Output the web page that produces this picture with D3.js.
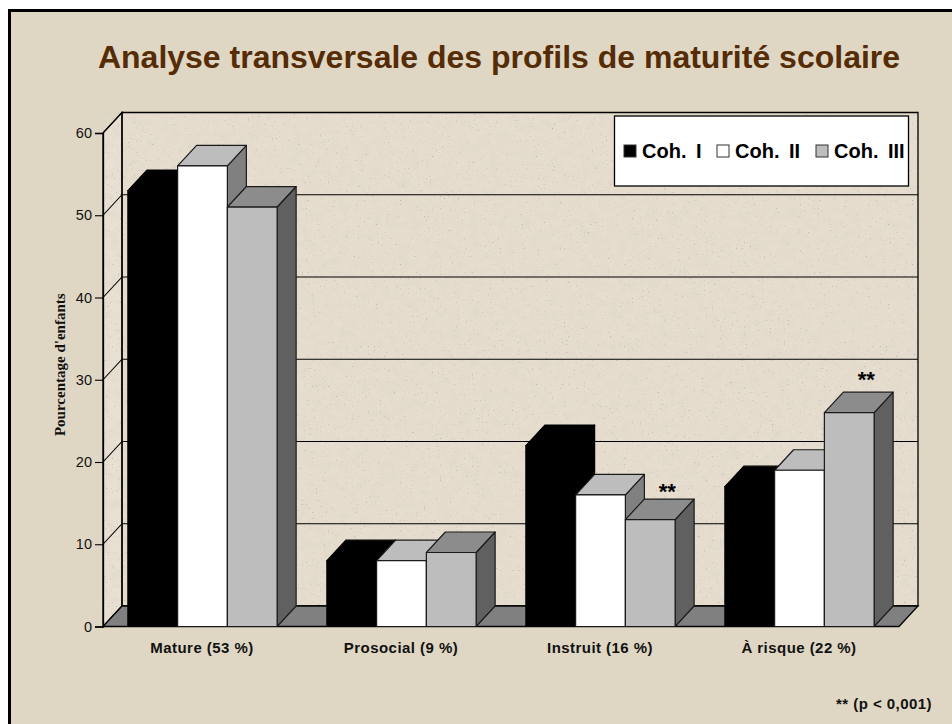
<!DOCTYPE html>
<html>
<head>
<meta charset="utf-8">
<script src="https://cdn.jsdelivr.net/npm/d3@7"></script>
<style>
  html, body { margin: 0; padding: 0; background: #fff; }
  svg { display: block; }
  text { font-family: "Liberation Sans", Arial, sans-serif; }
</style>
</head>
<body>
<svg id="chart" width="952" height="724"></svg>
<script>
// Values
const categories = ['Mature (53 %)', 'Prosocial (9 %)', 'Instruit (16 %)', 'À risque (22 %)'];
const seriesNames = ['Coh. I', 'Coh. II', 'Coh. III'];
const cohort1 = [53, 8, 22, 17];
const cohort2 = [56, 8, 16, 19];
const cohort3 = [51, 9, 13, 26];
const yTicks = [0, 10, 20, 30, 40, 50, 60];
// series index, category index of the bars that carry a star label
const starred = [[2, 2], [2, 3]];
const starLift = [0, 5];

const series = [cohort1, cohort2, cohort3];
const faces = [
  { front: '#000000', top: '#000000', side: '#000000', stroke: '#000000' },
  { front: '#ffffff', top: '#bdbdbd', side: '#808080', stroke: '#1a1a1a' },
  { front: '#bdbdbd', top: '#8c8c8c', side: '#606060', stroke: '#1a1a1a' }
];

const depthX = 19, depthY = -20.5;
const plotLeft = 103, plotRight = 899, plotBottom = 626.5, plotTop = 133;

const svg = d3.select('#chart');

const xScale = d3.scaleBand().domain(categories).range([plotLeft, plotRight]).paddingInner(0.25).paddingOuter(0.125);
const xSeries = d3.scaleBand().domain(d3.range(seriesNames.length)).range([0, xScale.bandwidth()]);
const yScale = d3.scaleLinear().domain([0, 60]).range([plotBottom, plotTop]);

const poly = pts => 'M' + pts.map(p => p.join(',')).join('L') + 'Z';

// speckled paper texture for the walls: soft blotches plus a few small dark specks
const defs = svg.append('defs');
const filter = defs.append('filter').attr('id', 'paper')
  .attr('x', 0).attr('y', 0).attr('width', '100%').attr('height', '100%');
filter.append('feTurbulence').attr('type', 'fractalNoise').attr('baseFrequency', 0.1)
  .attr('numOctaves', 3).attr('seed', 7).attr('result', 'noise');
filter.append('feColorMatrix').attr('in', 'noise').attr('type', 'matrix')
  .attr('values', '0 0 0 0 0.72  0 0 0 0 0.68  0 0 0 0 0.58  1.4 0 0 0 -0.6')
  .attr('result', 'blotch');
filter.append('feTurbulence').attr('type', 'fractalNoise').attr('baseFrequency', 0.5)
  .attr('numOctaves', 2).attr('seed', 23).attr('result', 'noise2');
filter.append('feColorMatrix').attr('in', 'noise2').attr('type', 'matrix')
  .attr('values', '0 0 0 0 0.5  0 0 0 0 0.46  0 0 0 0 0.4  6 0 0 0 -4.1')
  .attr('result', 'speck');
const merge = filter.append('feMerge');
['SourceGraphic', 'blotch', 'speck'].forEach(d => merge.append('feMergeNode').attr('in', d));

// slide background and its frame
svg.append('rect').attr('x', 9.5).attr('y', 10.5).attr('width', 960).attr('height', 730)
  .style('fill', '#dfd7c4').style('stroke', '#000').style('stroke-width', 3);

svg.append('text').attr('x', 499).attr('y', 68).attr('text-anchor', 'middle')
  .style('font-size', '32px').style('font-weight', 'bold').style('fill', '#552c06')
  .text('Analyse transversale des profils de maturité scolaire');

// walls, the texture goes on the fill only so the outline stays clean
const g = svg.append('g');
const sideWall = poly([[plotLeft, yScale(0)], [plotLeft + depthX, yScale(0) + depthY], [plotLeft + depthX, yScale(60) + depthY], [plotLeft, yScale(60)]]);
const backWall = poly([[plotLeft + depthX, yScale(0) + depthY], [plotRight + depthX, yScale(0) + depthY], [plotRight + depthX, yScale(60) + depthY], [plotLeft + depthX, yScale(60) + depthY]]);
g.append('path').attr('d', sideWall).attr('filter', 'url(#paper)').style('fill', '#e8e0d2');
g.append('path').attr('d', backWall).attr('filter', 'url(#paper)').style('fill', '#e6ddcf');
g.append('path').attr('d', sideWall).style('fill', 'none').style('stroke', '#000').style('stroke-width', 1.3);
g.append('path').attr('d', backWall).style('fill', 'none').style('stroke', '#000').style('stroke-width', 1.3);

// floor
g.append('path')
  .attr('d', poly([[plotLeft, yScale(0)], [plotRight, yScale(0)], [plotRight + depthX, yScale(0) + depthY], [plotLeft + depthX, yScale(0) + depthY]]))
  .style('fill', '#808080').style('stroke', '#000').style('stroke-width', 1.3);

// grid lines, running over the side wall and the back wall
g.selectAll('path.grid').data(yTicks.filter(d => d > 0)).enter().append('path')
  .attr('class', 'grid')
  .attr('d', d => `M${plotLeft},${yScale(d)}L${plotLeft + depthX},${yScale(d) + depthY}L${plotRight + depthX},${yScale(d) + depthY}`)
  .style('fill', 'none').style('stroke', '#000').style('stroke-width', 1.1);

// y axis
const yAxis = svg.append('g')
  .attr('transform', `translate(${plotLeft},0)`)
  .call(d3.axisLeft(yScale).tickValues(yTicks).tickSize(8).tickPadding(3));
yAxis.select('.domain').style('stroke', '#000').style('stroke-width', 1.3);
yAxis.selectAll('.tick line').style('stroke', '#000').style('stroke-width', 1.1);
yAxis.selectAll('.tick text').style('font-family', '"Liberation Sans", Arial, sans-serif')
  .style('font-size', '14.5px').style('fill', '#111');

svg.append('text')
  .attr('transform', `translate(65,${(yScale(0) + yScale(60)) / 2 - 15}) rotate(-90)`)
  .attr('text-anchor', 'middle')
  .style('font-family', '"Liberation Serif", "Times New Roman", serif')
  .style('font-size', '15px').style('font-weight', 'bold').style('fill', '#111')
  .text("Pourcentage d'enfants");

// x axis labels
svg.selectAll('text.cat').data(categories).enter().append('text')
  .attr('class', 'cat')
  .attr('x', d => xScale(d) + xScale.bandwidth() / 2 - 0.5)
  .attr('y', 653)
  .attr('text-anchor', 'middle')
  .style('font-size', '15px').style('letter-spacing', '0.45px').style('font-weight', 'bold').style('fill', '#111')
  .text(d => d);

// 3d bars, category by category and left to right so the later bars overlap
categories.forEach(function(cat, c) {
  series.forEach(function(values, s) {
    const x0 = xScale(cat) + xSeries(s), x1 = x0 + xSeries.bandwidth();
    const yT = yScale(values[c]), yB = yScale(0);
    const f = faces[s];
    const bar = svg.append('g').style('stroke', f.stroke).style('stroke-width', 1.2).style('stroke-linejoin', 'round');
    bar.append('path').style('fill', f.side)
      .attr('d', poly([[x1, yB], [x1 + depthX, yB + depthY], [x1 + depthX, yT + depthY], [x1, yT]]));
    bar.append('path').style('fill', f.top)
      .attr('d', poly([[x0, yT], [x1, yT], [x1 + depthX, yT + depthY], [x0 + depthX, yT + depthY]]));
    bar.append('path').style('fill', f.front)
      .attr('d', poly([[x0, yB], [x1, yB], [x1, yT], [x0, yT]]));
  });
});

// significance stars above the bars
svg.selectAll('text.star').data(starred).enter().append('text')
  .attr('class', 'star')
  .attr('x', d => xScale(categories[d[1]]) + xSeries(d[0]) + xSeries.bandwidth() / 2 + depthX - 2)
  .attr('y', (d, i) => yScale(series[d[0]][d[1]]) + depthY - starLift[i])
  .attr('text-anchor', 'middle')
  .style('font-size', '22px').style('font-weight', 'bold').style('fill', '#000')
  .text('**');

// legend
svg.append('rect').attr('x', 614.5).attr('y', 116).attr('width', 294).attr('height', 70)
  .style('fill', '#fff').style('stroke', '#000').style('stroke-width', 1.3);
const legendX = d3.scaleOrdinal().domain(seriesNames).range([624, 717, 816]);
const legend = svg.selectAll('g.legend').data(seriesNames).enter().append('g')
  .attr('class', 'legend')
  .attr('transform', d => `translate(${legendX(d)},151)`);
legend.append('rect').attr('x', 0).attr('y', -6).attr('width', 12).attr('height', 12)
  .style('fill', (d, i) => faces[i].front).style('stroke', '#333').style('stroke-width', 1);
legend.append('text').attr('x', 18).attr('y', 7)
  .style('font-size', '20px').style('font-weight', 'bold').style('fill', '#000')
  .style('word-spacing', '4px')
  .text(d => d);

svg.append('text').attr('x', 932).attr('y', 709).attr('text-anchor', 'end')
  .style('font-size', '15px').style('letter-spacing', '0.45px').style('font-weight', 'bold').style('fill', '#111')
  .text('** (p < 0,001)');
</script>
</body>
</html>
